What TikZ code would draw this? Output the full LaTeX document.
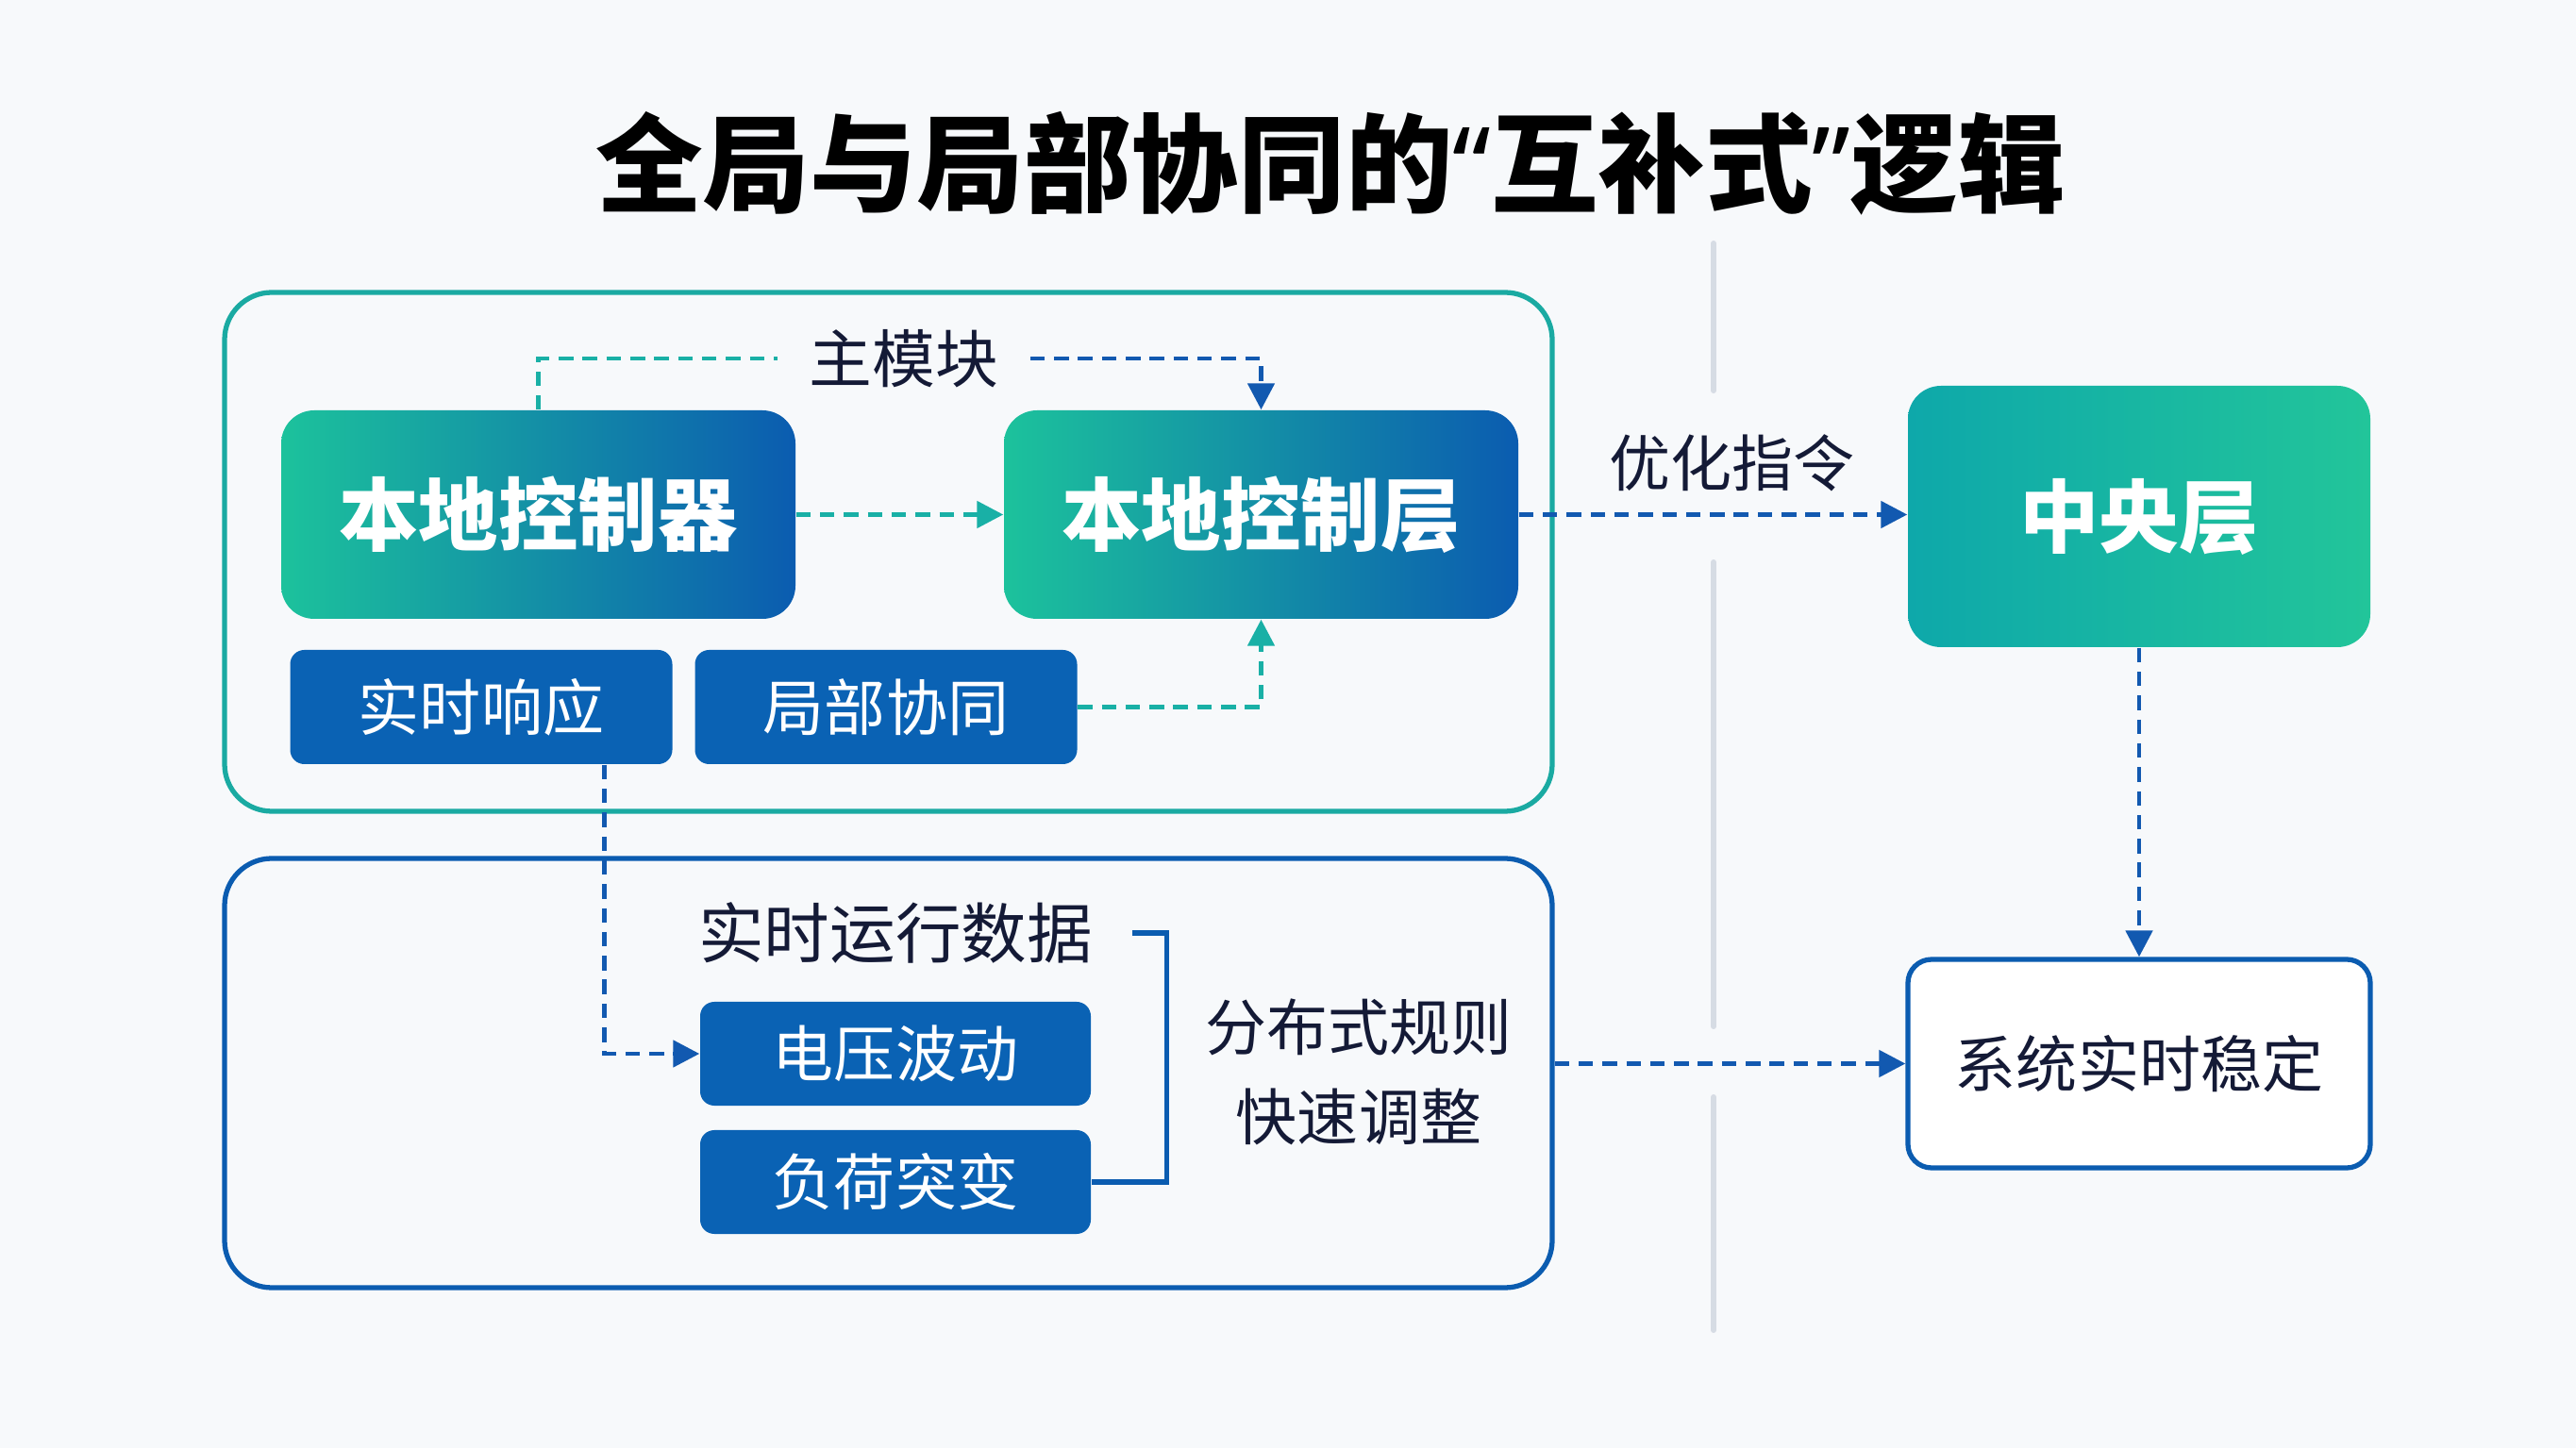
\documentclass[tikz,border=0pt]{standalone}
\usepackage{fontspec}
\setmainfont{Noto Sans CJK SC}
\newfontfamily\quotefont{Noto Sans}
\usepackage{xcolor}
\usepackage{tikz}
\usetikzlibrary{arrows.meta,positioning}
\definecolor{tealC}{HTML}{1CC29C}
\definecolor{blueC}{HTML}{0B5CB0}
\definecolor{boxC}{HTML}{0A62B4}
\definecolor{inkC}{HTML}{141A36}
\definecolor{bgC}{HTML}{F7F9FB}
\definecolor{sepC}{HTML}{D6DCE4}
\definecolor{cenL}{HTML}{0EA8AA}
\definecolor{cenR}{HTML}{22C59A}
\definecolor{panelT}{HTML}{1AAAA2}
\definecolor{flowT}{HTML}{19B0A6}
\definecolor{flowB}{HTML}{1259B0}
\newcommand{\openq}{{\quotefont\bfseries “}}
\newcommand{\closeq}{{\quotefont\bfseries ”}}

\begin{document}
\begin{tikzpicture}[
  >={Triangle[length=2.8mm,width=2.8mm]},
  title/.style={font=\fontsize{32.3}{38}\selectfont\bfseries, text=black},
  big box/.style={rounded corners=3.5mm, minimum width=54.5mm,
                  minimum height=22.1mm, inner sep=0pt, text=white,
                  font=\fontsize{24}{28}\selectfont\bfseries,
                  left color=tealC, right color=blueC},
  small box/.style={rounded corners=1.5mm, fill=boxC, minimum width=40.5mm,
                    minimum height=12.1mm, inner sep=0pt, text=white,
                    font=\fontsize{18.5}{22}\selectfont},
  panel/.style={rounded corners=5mm, line width=1.5pt, minimum width=140.7mm,
                inner sep=0pt},
  label text/.style={text=inkC, font=\fontsize{18.5}{27}\selectfont},
  teal flow/.style={draw=flowT, line width=1.4pt, dash pattern=on 4.4pt off 2.8pt},
  blue flow/.style={draw=flowB, line width=1.4pt, dash pattern=on 4.4pt off 2.8pt},
  sep/.style={draw=sepC, line width=1.7pt, line cap=round},
]

% === Background and frame ===
\fill[bgC] (0,0) rectangle (27.3,15.35);
\useasboundingbox (0,0) rectangle (27.3,15.35);

\node[title] (head) at (14.10, 13.62) {全局与局部协同的\openq 互补式\closeq 逻辑};

% === Separator ===
\draw[sep] (18.16, 12.77) -- (18.16, 11.21);
\draw[sep] (18.16, 9.39) -- (18.16, 4.47);
\draw[sep] (18.16, 3.72) -- (18.16, 1.25);

% === Upper panel: local control ===
\node[panel, draw=panelT, minimum height=55mm] (upper) at (9.415, 9.50) {};

\node[big box] (ctrl) at (5.705, 9.895) {本地控制器};
\node[big box] (layer) at (13.365, 9.895) {本地控制层};
\node[small box] (resp) at (5.10, 7.855) {实时响应};
\node[small box] (coop) at (9.39, 7.855) {局部协同};
\node[label text, inner xsep=3.3mm, font=\fontsize{19}{27}\selectfont] (main) at (9.58, 11.55) {主模块};

\draw[teal flow] (ctrl.north) |- (main.west);
\draw[blue flow, ->] (main.east) -| (layer.north);
\draw[teal flow, ->] (ctrl) -- (layer);
\draw[teal flow, ->] (coop) -| (layer.south);

% === Lower panel: distributed rules ===
\node[panel, draw=blueC, minimum height=45.5mm] (lower) at (9.415, 3.975) {};

\node[label text, font=\fontsize{19.8}{27}\selectfont] (data) at (9.49, 5.46) {实时运行数据};
\node[small box, minimum width=41.4mm, minimum height=11mm] (volt) at (9.49, 4.18) {电压波动};
\node[small box, minimum width=41.4mm, minimum height=11mm] (load) at (9.49, 2.82) {负荷突变};
\node[label text, align=center] (rule) at (14.40, 3.99) {分布式规则\\快速调整};

\draw[blue flow, ->] ([xshift=-7.3mm]resp.south east) |- (volt.west);
\draw[blueC, line width=1.5pt] ([xshift=3mm]data.east) -| ([xshift=8mm]load.east) -- (load.east);

% === Right side: central layer ===
\node[rounded corners=3.5mm, minimum width=49mm, minimum height=27.7mm,
      left color=cenL, right color=cenR, text=white, inner sep=0pt,
      font=\fontsize{24}{28}\selectfont\bfseries] (central) at (22.67, 9.875) {中央层};
\node[rounded corners=2.5mm, draw=blueC, line width=1.5pt, fill=white,
      minimum width=49mm, minimum height=22.1mm, inner sep=0pt,
      label text] (stable) at (22.67, 4.075) {系统实时稳定};

\draw[blue flow, ->] (layer.east) -- node[above=1mm, xshift=2mm, label text] {优化指令}
  (layer.east -| central.west);
\draw[blue flow, ->] (central) -- (stable);
\draw[blue flow, ->] (lower.east |- stable.west) -- (stable.west);

\end{tikzpicture}
\end{document}
